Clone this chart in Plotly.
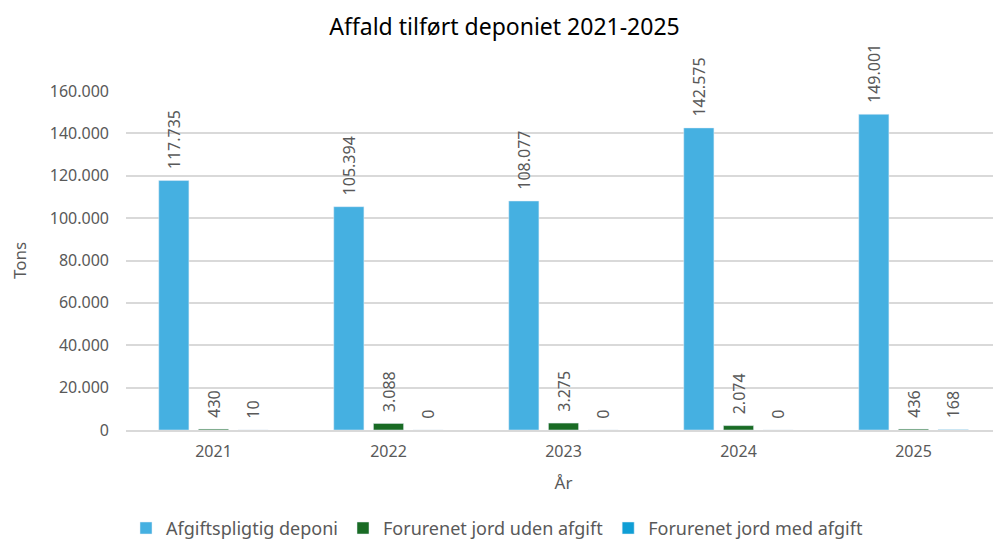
import plotly.graph_objects as go

years = ["2021", "2022", "2023", "2024", "2025"]
afgiftspligtig = [117735, 105394, 108077, 142575, 149001]
uden_afgift = [430, 3088, 3275, 2074, 436]
med_afgift = [10, 0, 0, 0, 168]

series = [
    ("Afgiftspligtig deponi", afgiftspligtig, "#45B0E1"),
    ("Forurenet jord uden afgift", uden_afgift, "#196B24"),
    ("Forurenet jord med afgift", med_afgift, "#0F9ED5"),
]

font = "Noto Sans"
grey = "#595959"
fig = go.Figure()
for name, vals, color in series:
    fig.add_trace(go.Bar(
        x=years, y=vals, name=name, marker_color=color,
        # leading nbsp gives the gap Excel leaves above the bar
        texttemplate="\u00a0\u00a0%{y:,}", textposition="outside", textangle=-90,
        constraintext="none",
        textfont=dict(size=16, color=grey, family=font),
        cliponaxis=False,
    ))

# page body has an 8px margin, so the figure is sized to fit the window
fig.update_layout(
    width=993, height=535,
    separators=",.",
    barmode="group", bargap=0.32, bargroupgap=0.24,
    plot_bgcolor="white", paper_bgcolor="white",
    margin=dict(l=118, r=0, t=83, b=113, autoexpand=False),
    font=dict(family=font, color=grey, size=16),
    title=dict(text="Affald tilført deponiet 2021-2025", x=0.5, xanchor="center",
               y=0.964, yanchor="middle", font=dict(size=23, color="#000000")),
    legend=dict(orientation="h", x=0.0, xanchor="left", y=-0.29, yanchor="middle",
                font=dict(size=18, color=grey), itemwidth=30, traceorder="normal"),
)
fig.update_xaxes(title=dict(text="År", standoff=16, font=dict(size=17)), showline=True,
                 linecolor="#d9d9d9", linewidth=2, tickfont=dict(size=16),
                 ticklabelstandoff=6, automargin=False)
fig.update_yaxes(title=dict(text="Tons", standoff=20, font=dict(size=17)), range=[0, 160000],
                 dtick=20000, tickformat=",", gridcolor="#d9d9d9", gridwidth=1.5,
                 zeroline=False, ticks="", tickfont=dict(size=16),
                 ticklabelstandoff=16, automargin=False)

fig.write_html("out.html")
